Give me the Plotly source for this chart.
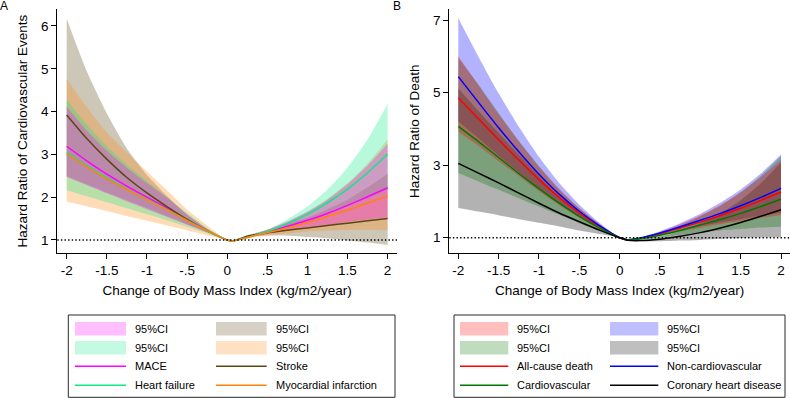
import plotly.graph_objects as go

W, H = 790, 398
FONT = "Liberation Sans, Arial, Helvetica, sans-serif"

# ---------------- Panel A: cardiovascular events ----------------
xa = [-2, -1.75, -1.5, -1.25, -1, -0.75, -0.5, -0.25, 0, 0.07, 0.25, 0.5, 0.75, 1, 1.25, 1.5, 1.75, 2]
mace = [3.19, 2.85, 2.54, 2.26, 2.00, 1.75, 1.47, 1.22, 1.00, 0.975, 1.07, 1.19, 1.32, 1.46, 1.62, 1.81, 2.01, 2.22]
mace_lo = [2.47, 2.28, 2.09, 1.90, 1.72, 1.54, 1.36, 1.18, 1.00, 0.97, 1.06, 1.14, 1.22, 1.29, 1.35, 1.42, 1.48, 1.52]
mace_hi = [4.12, 3.56, 3.09, 2.69, 2.33, 1.99, 1.59, 1.26, 1.00, 0.98, 1.08, 1.24, 1.43, 1.66, 1.94, 2.30, 2.74, 3.25]
stroke = [3.92, 3.37, 2.89, 2.46, 2.10, 1.78, 1.48, 1.22, 1.00, 0.975, 1.09, 1.17, 1.23, 1.28, 1.34, 1.39, 1.45, 1.50]
stroke_lo = [2.49, 2.30, 2.11, 1.93, 1.75, 1.56, 1.37, 1.18, 1.00, 0.97, 1.07, 1.10, 1.10, 1.07, 1.04, 0.99, 0.94, 0.88]
stroke_hi = [6.17, 4.94, 3.96, 3.14, 2.52, 2.03, 1.60, 1.26, 1.00, 0.98, 1.11, 1.24, 1.37, 1.52, 1.72, 1.94, 2.23, 2.55]
hf = [3.04, 2.73, 2.45, 2.19, 1.95, 1.71, 1.46, 1.22, 1.00, 0.975, 1.06, 1.20, 1.38, 1.60, 1.87, 2.19, 2.57, 3.01]
hf_lo = [2.16, 2.02, 1.88, 1.74, 1.60, 1.46, 1.31, 1.16, 1.00, 0.97, 1.05, 1.16, 1.29, 1.44, 1.60, 1.78, 1.97, 2.17]
hf_hi = [4.28, 3.69, 3.19, 2.76, 2.38, 2.00, 1.63, 1.28, 1.00, 0.98, 1.07, 1.24, 1.48, 1.78, 2.18, 2.69, 3.35, 4.18]
mi = [3.01, 2.71, 2.43, 2.18, 1.94, 1.70, 1.45, 1.22, 1.00, 0.975, 1.06, 1.17, 1.28, 1.41, 1.55, 1.70, 1.86, 2.03]
mi_lo = [1.90, 1.79, 1.68, 1.56, 1.45, 1.34, 1.23, 1.11, 1.00, 0.97, 1.04, 1.11, 1.15, 1.20, 1.22, 1.24, 1.24, 1.23]
mi_hi = [4.77, 4.10, 3.51, 3.05, 2.60, 2.16, 1.71, 1.34, 1.00, 0.98, 1.08, 1.24, 1.42, 1.66, 1.96, 2.33, 2.79, 3.35]

# ---------------- Panel B: death ----------------
xb = [-2, -1.75, -1.5, -1.25, -1, -0.75, -0.5, -0.25, 0, 0.1, 0.25, 0.5, 0.75, 1, 1.25, 1.5, 1.75, 2]
allc = [4.85, 4.28, 3.70, 3.14, 2.60, 2.11, 1.68, 1.31, 1.00, 0.94, 0.98, 1.11, 1.27, 1.43, 1.61, 1.81, 2.03, 2.26]
allc_lo = [3.92, 3.53, 3.11, 2.70, 2.28, 1.90, 1.55, 1.25, 1.00, 0.94, 0.97, 1.06, 1.18, 1.27, 1.37, 1.46, 1.55, 1.62]
allc_hi = [6.00, 5.20, 4.40, 3.66, 2.96, 2.35, 1.82, 1.38, 1.00, 0.94, 0.99, 1.16, 1.37, 1.61, 1.90, 2.25, 2.67, 3.15]
noncv = [5.44, 4.73, 4.03, 3.37, 2.75, 2.20, 1.73, 1.33, 1.00, 0.94, 0.99, 1.13, 1.30, 1.48, 1.67, 1.88, 2.11, 2.36]
noncv_lo = [4.20, 3.74, 3.26, 2.80, 2.34, 1.93, 1.57, 1.25, 1.00, 0.94, 0.98, 1.08, 1.20, 1.32, 1.42, 1.51, 1.61, 1.69]
noncv_hi = [7.05, 5.99, 4.98, 4.06, 3.23, 2.51, 1.91, 1.41, 1.00, 0.94, 1.00, 1.18, 1.40, 1.66, 1.97, 2.33, 2.77, 3.29]
cv = [4.07, 3.65, 3.21, 2.77, 2.35, 1.95, 1.59, 1.27, 1.00, 0.94, 0.97, 1.07, 1.20, 1.35, 1.50, 1.67, 1.86, 2.06]
cv_lo = [2.78, 2.55, 2.32, 2.09, 1.86, 1.63, 1.40, 1.19, 1.00, 0.94, 0.95, 1.01, 1.08, 1.15, 1.20, 1.24, 1.28, 1.30]
cv_hi = [5.96, 5.22, 4.44, 3.67, 2.97, 2.33, 1.81, 1.36, 1.00, 0.94, 0.99, 1.13, 1.33, 1.59, 1.88, 2.25, 2.71, 3.26]
chd = [3.05, 2.78, 2.51, 2.23, 1.95, 1.68, 1.44, 1.21, 1.00, 0.93, 0.92, 0.96, 1.04, 1.14, 1.27, 1.42, 1.59, 1.77]
chd_lo = [1.82, 1.72, 1.62, 1.51, 1.41, 1.31, 1.20, 1.10, 1.00, 0.92, 0.90, 0.90, 0.92, 0.94, 0.97, 0.99, 1.01, 1.02]
chd_hi = [5.11, 4.49, 3.89, 3.29, 2.70, 2.15, 1.73, 1.33, 1.00, 0.94, 0.94, 1.03, 1.18, 1.39, 1.67, 2.03, 2.50, 3.07]

x_tickvals = [-2, -1.5, -1, -0.5, 0, 0.5, 1, 1.5, 2]
x_ticktext = ["-2", "-1.5", "-1", "-.5", "0", ".5", "1", "1.5", "2"]
ya_tickvals = [1, 2, 3, 4, 5, 6]
yb_tickvals = [1, 3, 5, 7]

BAND_ALPHA = 0.3
KEY_ALPHA = 0.25


def rgba(rgb, a):
    return "rgba(%d,%d,%d,%.2f)" % (rgb[0], rgb[1], rgb[2], a)


# base colours (line colour, band colour)
C_MACE = ((255, 0, 255), (255, 0, 255))
C_STROKE = ((91, 71, 19), (91, 71, 19))
C_HF = ((15, 232, 132), (15, 235, 135))
C_MI = ((255, 130, 10), (255, 135, 15))
C_ALL = ((255, 0, 0), (255, 0, 0))
C_NONCV = ((0, 0, 255), (0, 0, 255))
C_CV = ((0, 120, 0), (0, 115, 0))
C_CHD = ((0, 0, 0), (0, 0, 0))

# (name, estimate, lower, upper, colours); legend order is the list order
panelA = [("MACE", mace, mace_lo, mace_hi, C_MACE),
          ("Stroke", stroke, stroke_lo, stroke_hi, C_STROKE),
          ("Heart failure", hf, hf_lo, hf_hi, C_HF),
          ("Myocardial infarction", mi, mi_lo, mi_hi, C_MI)]
panelB = [("All-cause death", allc, allc_lo, allc_hi, C_ALL),
          ("Non-cardiovascular", noncv, noncv_lo, noncv_hi, C_NONCV),
          ("Cardiovascular", cv, cv_lo, cv_hi, C_CV),
          ("Coronary heart disease", chd, chd_lo, chd_hi, C_CHD)]
# drawing order of the confidence bands (bottom -> top)
bandsA = [1, 3, 2, 0]
bandsB = [1, 3, 2, 0]

fig = go.Figure()
SM = 0.6


def add_panel(x, series, order, xax, yax):
    for i in order:
        name, est, lo, hi, (lc, bc) = series[i]
        fc = rgba(bc, BAND_ALPHA)
        fig.add_trace(go.Scatter(x=x, y=lo, mode="lines", xaxis=xax, yaxis=yax,
                                 line=dict(width=0, shape="spline", smoothing=SM, color=fc),
                                 showlegend=False, hoverinfo="skip", name=name + " 95%CI low"))
        fig.add_trace(go.Scatter(x=x, y=hi, mode="lines", xaxis=xax, yaxis=yax, fill="tonexty",
                                 fillcolor=fc,
                                 line=dict(width=0, shape="spline", smoothing=SM, color=fc),
                                 showlegend=False, hoverinfo="skip", name=name + " 95%CI"))
    for name, est, lo, hi, (lc, bc) in series:
        fig.add_trace(go.Scatter(x=x, y=est, mode="lines", xaxis=xax, yaxis=yax,
                                 line=dict(width=1.5, shape="spline", smoothing=SM,
                                           color="rgb(%d,%d,%d)" % lc),
                                 showlegend=False, name=name))


add_panel(xa, panelA, bandsA, "x", "y")
add_panel(xb, panelB, bandsB, "x2", "y2")


def px_x(p):
    return p / W


def px_y(p):
    return (H - p) / H


axis_common = dict(showline=True, linecolor="black", linewidth=1.2, ticks="outside",
                   ticklen=5, tickwidth=1.2, tickcolor="black", showgrid=False,
                   zeroline=False, tickfont=dict(family=FONT, size=13.5, color="black"),
                   mirror=False)

yb0, yb1 = px_y(253), px_y(9.3)
fig.update_layout(
    width=W, height=H, margin=dict(l=0, r=0, t=0, b=0),
    paper_bgcolor="white", plot_bgcolor="white", showlegend=False,
    font=dict(family=FONT, color="black"),
    xaxis=dict(axis_common, domain=[px_x(57.3), px_x(397)], range=[-2.117, 2.117],
               tickvals=x_tickvals, ticktext=x_ticktext, anchor="y",
               title=dict(text="Change of Body Mass Index (kg/m2/year)",
                          font=dict(family=FONT, size=13.5, color="black"), standoff=8)),
    yaxis=dict(axis_common, domain=[yb0, yb1], range=[0.696, 6.39], tickvals=ya_tickvals,
               anchor="x",
               title=dict(text="Hazard Ratio of Cardiovascular Events",
                          font=dict(family=FONT, size=13.5, color="black"), standoff=10)),
    xaxis2=dict(axis_common, domain=[px_x(449.3), 1.0], range=[-2.1115, 2.1115],
                tickvals=x_tickvals, ticktext=x_ticktext, anchor="y2",
                title=dict(text="Change of Body Mass Index (kg/m2/year)",
                           font=dict(family=FONT, size=13.5, color="black"), standoff=8)),
    yaxis2=dict(axis_common, domain=[yb0, yb1], range=[0.5785, 7.295], tickvals=yb_tickvals,
                anchor="x2",
                title=dict(text="Hazard Ratio of Death",
                           font=dict(family=FONT, size=13.5, color="black"), standoff=10)),
)

shapes = []
annotations = []

# dotted reference lines at HR = 1
for xr, yr in (("x domain", "y"), ("x2 domain", "y2")):
    shapes.append(dict(type="line", xref=xr, yref=yr, x0=0, x1=1, y0=1, y1=1,
                       line=dict(color="black", width=1.4, dash="1.4px,2.2px"), layer="above"))

# panel letters
for letter, xp in (("A", 4), ("B", 397)):
    annotations.append(dict(text=letter, xref="paper", yref="paper", x=px_x(xp), y=1,
                            xanchor="center", yanchor="top", yshift=3, showarrow=False,
                            font=dict(family=FONT, size=12, color="black")))


# legends (drawn as boxes with swatches and text)
def add_legend(box, cols, entries):
    x0, x1, y0, y1 = box
    shapes.append(dict(type="rect", xref="paper", yref="paper", x0=px_x(x0), x1=px_x(x1),
                       y0=px_y(y1), y1=px_y(y0), line=dict(color="rgb(40,40,40)", width=1),
                       fillcolor="rgba(0,0,0,0)"))
    rows_y = [328.7, 347.7, 366.3, 385.3]
    for i, (label, kind, color) in enumerate(entries):
        r, c = divmod(i, 2)
        sx0, sx1, tx = cols[c]
        yc = rows_y[r]
        if kind == "fill":
            shapes.append(dict(type="rect", xref="paper", yref="paper", x0=px_x(sx0), x1=px_x(sx1),
                               y0=px_y(yc + 6.8), y1=px_y(yc - 6.8), line=dict(width=0),
                               fillcolor=color))
        else:
            shapes.append(dict(type="line", xref="paper", yref="paper", x0=px_x(sx0), x1=px_x(sx1),
                               y0=px_y(yc), y1=px_y(yc), line=dict(color=color, width=1.5)))
        annotations.append(dict(text=label, xref="paper", yref="paper", x=px_x(tx - 1.5),
                                y=px_y(yc), xanchor="left", yanchor="middle", showarrow=False,
                                font=dict(family=FONT, size=11, color="black")))


def legend_entries(series):
    ci = [("95%CI", "fill", rgba(s[4][1], KEY_ALPHA)) for s in series]
    ln = [(s[0], "line", "rgb(%d,%d,%d)" % s[4][0]) for s in series]
    return ci + ln


add_legend((68.3, 395, 315, 397.3), [(75, 126, 134.3), (216, 266.7, 275)], legend_entries(panelA))
add_legend((454, 785, 315, 397.3), [(460, 508.3, 516.7), (610, 658.3, 666.7)], legend_entries(panelB))

fig.update_layout(shapes=shapes, annotations=annotations)
fig.write_html("out.html", config={"displayModeBar": False},
               post_script="document.body.style.margin='0px';document.body.style.overflow='hidden';")
